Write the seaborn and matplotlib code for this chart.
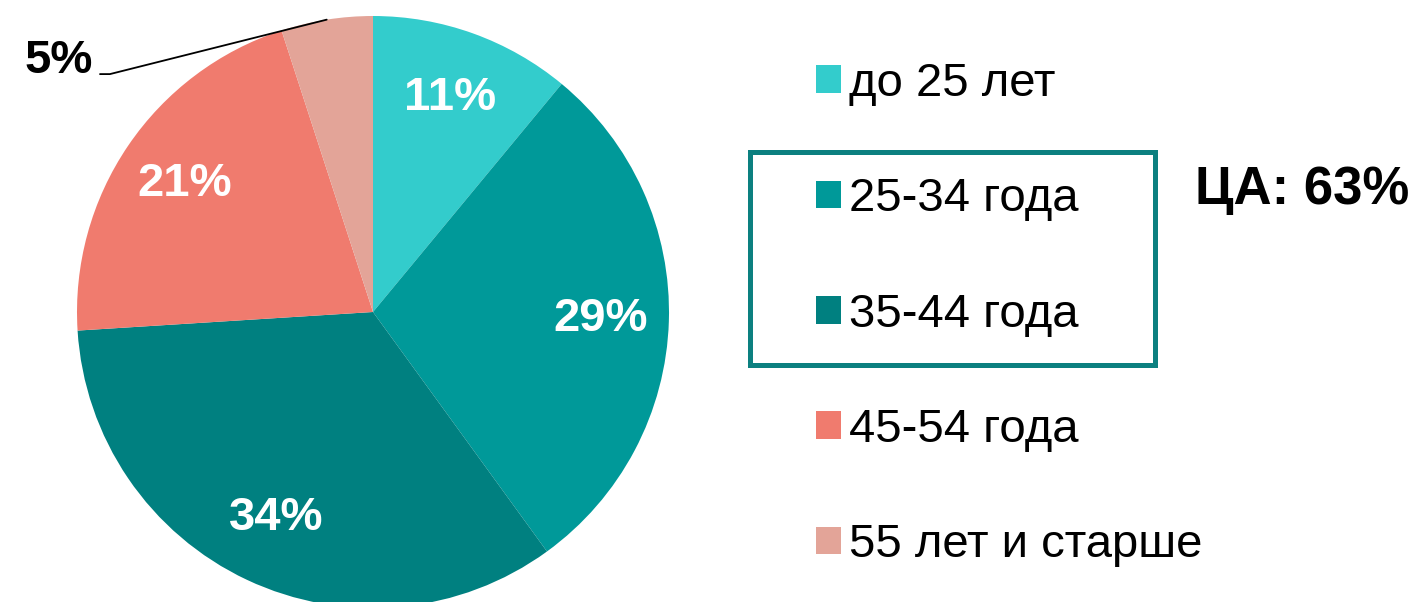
import numpy as np
import matplotlib
matplotlib.use("Agg")
import matplotlib.pyplot as plt
from matplotlib.patches import Rectangle
import seaborn as sns

sns.set_theme(style="white")
plt.rcParams['font.family'] = ['Liberation Sans', 'DejaVu Sans']
plt.rcParams['text.color'] = 'black'

categories = ["до 25 лет", "25-34 года", "35-44 года", "45-54 года", "55 лет и старше"]
values = [11, 29, 34, 21, 5]
colors = ["#33CCCC", "#009999", "#008080", "#F07B6E", "#E3A498"]
target_label = "ЦА: 63%"

W, H = 1424, 602
fig = plt.figure(figsize=(W / 100, H / 100), dpi=100)
fig.patch.set_facecolor("white")

cx, cy, half = 373, 312, 300
ax = fig.add_axes([(cx - half) / W, (H - cy - half) / H, 2 * half / W, 2 * half / H])
ax.set_xlim(-1, 1)
ax.set_ylim(-1, 1)
ax.axis("off")

radius = 296 / 300
wedges, texts, autotexts = ax.pie(
    values, colors=colors, startangle=90, counterclock=False, radius=radius,
    autopct=lambda p: f"{p:.0f}%", pctdistance=0.77,
    wedgeprops=dict(linewidth=0),
    textprops=dict(color="white", fontsize=34, fontweight="bold"),
)
ax.set_xlim(-1, 1)
ax.set_ylim(-1, 1)

# small slice label outside with leader line
small = len(values) - 1
autotexts[small].set_visible(False)
w = wedges[small]
mid = np.deg2rad((w.theta1 + w.theta2) / 2)
px, py = radius * np.cos(mid), radius * np.sin(mid)
elbow = (-0.877, 0.793)
end = (-0.91, 0.793)
ax.plot([px, elbow[0], end[0]], [py, elbow[1], end[1]], color="black", lw=1.3,
        clip_on=False)
ax.text(end[0] - 0.025, end[1] + 0.005, f"{values[small]}%", ha="right", va="baseline",
        fontsize=34, fontweight="bold", color="black")

# legend
leg = fig.legend(wedges, categories, loc="upper left",
                 bbox_to_anchor=(816 / W, 1 - 62 / H),
                 frameon=False, fontsize=34, handlelength=0.53, handleheight=0.53,
                 handletextpad=0.17, labelspacing=1.51, borderpad=0, borderaxespad=0,
                 labelcolor="black")

# highlight box
fig.patches.append(Rectangle((750 / W, (H - 365) / H), 405 / W, 213 / H,
                             transform=fig.transFigure, fill=False,
                             edgecolor="#0C8080", linewidth=3.6, zorder=5))

fig.text(1195 / W, 1 - 190 / H, target_label, ha="left", va="center",
         fontsize=38, fontweight="bold", color="black")

fig.savefig("out.png", dpi=100, facecolor="white")
